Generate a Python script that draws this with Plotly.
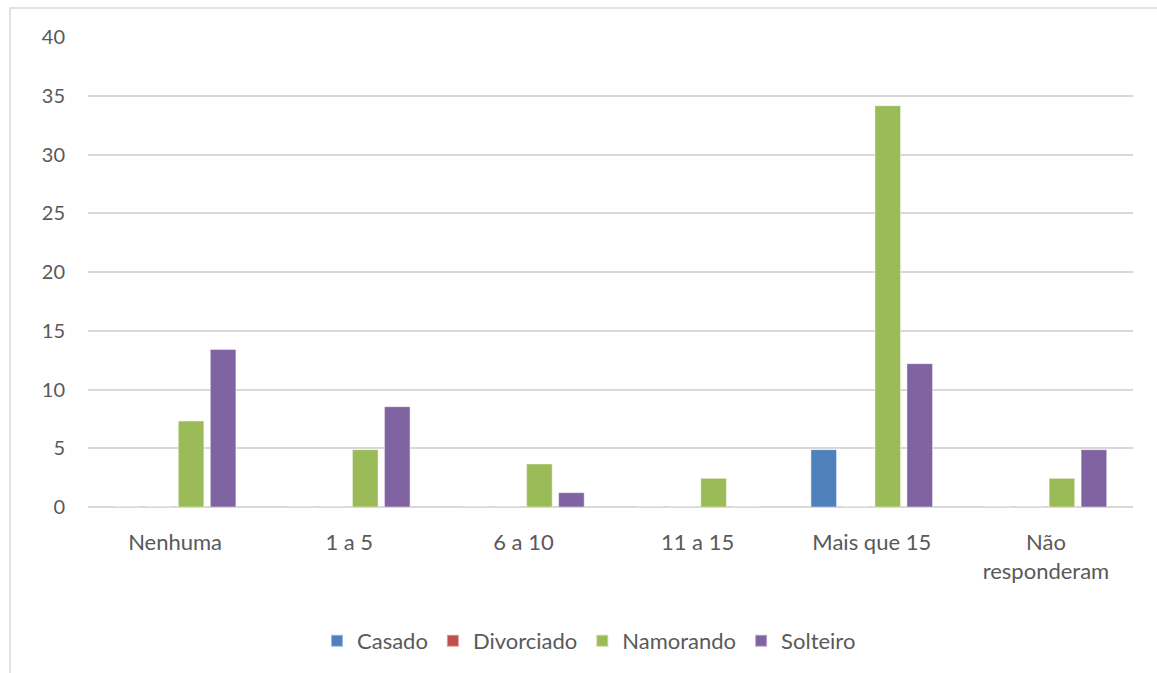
import plotly.graph_objects as go

categories = ["Nenhuma", "1 a 5", "6 a 10", "11 a 15", "Mais que 15", "Não<br>responderam"]
casado = [0, 0, 0, 0, 4.88, 0]
divorciado = [0, 0, 0, 0, 0, 0]
namorando = [7.32, 4.88, 3.66, 2.44, 34.15, 2.44]
solteiro = [13.41, 8.54, 1.22, 0, 12.2, 4.88]
y_ticks = [0, 5, 10, 15, 20, 25, 30, 35, 40]

W, H = 1157, 673
L, R, T, B = 88, 1133, 37, 508

series = [
    ("Casado", casado, "#4F81BD"),
    ("Divorciado", divorciado, "#C0504D"),
    ("Namorando", namorando, "#9BBB59"),
    ("Solteiro", solteiro, "#8064A2"),
]

fig = go.Figure()
for name, vals, col in series:
    fig.add_trace(go.Bar(
        x=categories, y=vals, name=name,
        marker=dict(color=col, line=dict(color="rgba(255,255,255,0.45)", width=1)),
    ))

pw, ph = R - L, B - T
fig.update_layout(
    width=W, height=H,
    margin=dict(l=L, r=W - R, t=T, b=H - B, pad=0),
    paper_bgcolor="white", plot_bgcolor="white",
    barmode="group", bargap=0.265, bargroupgap=0.2,
    font=dict(family="Lato, Noto Sans, sans-serif", size=22, color="#595959"),
    showlegend=True,
    legend=dict(orientation="h", x=(589 - L) / pw, xanchor="center", y=(B - 641) / ph, yanchor="middle",
                font=dict(size=22, color="#595959"), itemwidth=30, tracegroupgap=0,
                itemsizing="constant"),
    xaxis=dict(showgrid=False, showline=False, zeroline=False, ticks="",
               ticklabelstandoff=20, tickfont=dict(size=22, color="#595959")),
    yaxis=dict(range=[0, 40], tickvals=y_ticks, showgrid=True, gridcolor="#d9d9d9", gridwidth=1.5,
               zeroline=True, zerolinecolor="#d9d9d9", zerolinewidth=1.5, showline=False,
               ticks="", ticklabelstandoff=22, tickfont=dict(size=20, color="#595959")),
    shapes=[dict(type="rect", xref="paper", yref="paper",
                 x0=(10 - L) / pw, x1=(W + 5 - L) / pw,
                 y0=(B - (H + 5)) / ph, y1=(B - 8) / ph,
                 line=dict(color="#d9d9d9", width=1.5), fillcolor="rgba(0,0,0,0)", layer="below")],
)

fig.write_html("out.html")
